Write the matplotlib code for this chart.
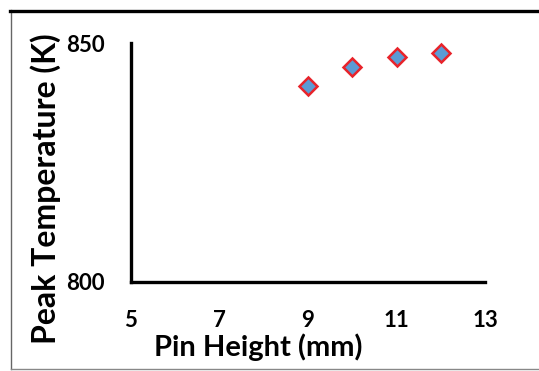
import numpy as np
import matplotlib.pyplot as plt
from matplotlib.lines import Line2D

# pin height (mm) against peak temperature (K)
pin_height = [9, 10, 11, 12]
peak_temp = [841.0, 845.0, 847.0, 848.0]

x_ticks = [5, 7, 9, 11, 13]
y_ticks = [800, 850]

plt.rcParams['font.family'] = ['Lato', 'DejaVu Sans']

fig = plt.figure(figsize=(5.39, 3.71), dpi=100)
ax = fig.add_axes([0.243, 0.24, 0.657, 0.644])

ax.plot(pin_height, peak_temp, linestyle='none', marker='D',
        markersize=9, markerfacecolor='#5b9bd5', markeredgecolor='#e8232b',
        markeredgewidth=1.8, clip_on=False)

ax.set_xlim(5, 13)
ax.set_ylim(800, 850)
ax.set_xticks(x_ticks)
ax.set_yticks(y_ticks)
ax.tick_params(length=0, labelsize=16)
ax.tick_params(axis='x', pad=20)
ax.tick_params(axis='y', pad=19)
for lab in ax.get_xticklabels() + ax.get_yticklabels():
    lab.set_fontweight('bold')

ax.set_xlabel('Pin Height (mm)', fontsize=21, fontweight='bold')
ax.set_ylabel('Peak Temperature (K)', fontsize=23, fontweight='bold')
# the labels sit a little off-centre in the original
ax.xaxis.set_label_coords(0.36, -0.215)
ax.yaxis.set_label_coords(-0.197, 0.39)

# only the left and bottom spines, drawn thick
ax.spines['right'].set_color('none')
ax.spines['top'].set_color('none')
ax.spines['left'].set_linewidth(2.4)
ax.spines['bottom'].set_linewidth(2.4)

# frame round the picture: thin grey left/bottom, thick black top
W, H = 539, 371
fig.add_artist(Line2D([11 / W, 11 / W], [1 - 10 / H, 1 - 369 / H],
                      color='#666666', linewidth=1.0))
fig.add_artist(Line2D([11 / W, 1], [1 - 369 / H, 1 - 369 / H],
                      color='#888888', linewidth=1.0))
fig.add_artist(Line2D([10 / W, 1], [1 - 10.5 / H, 1 - 10.5 / H],
                      color='black', linewidth=2.4))

fig.savefig('out.png', dpi=100)
